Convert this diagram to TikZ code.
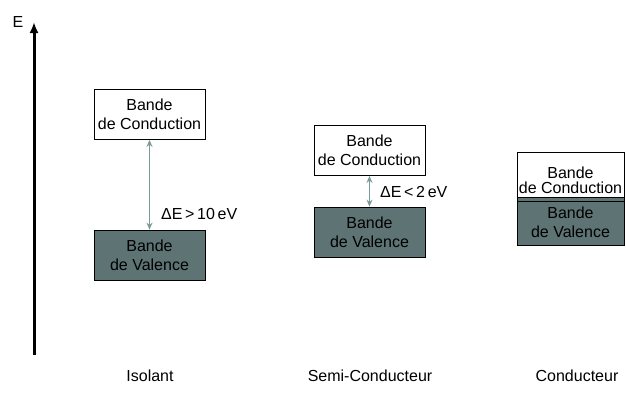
\documentclass[tikz,border=0pt]{standalone}
\usepackage{fontspec}
\setmainfont{Liberation Sans}
\usetikzlibrary{arrows.meta}
\definecolor{valfill}{HTML}{5E7373}
\definecolor{gapcol}{HTML}{7A9A9A}
\tikzset{
  band/.style={draw, rectangle, line width=0.8pt, minimum width=111pt, minimum height=50pt, inner sep=0pt, align=center},
  cband/.style={band, fill=white},
  vband/.style={band, fill=valfill},
  gap/.style={{Stealth[length=7pt,width=6pt]}-{Stealth[length=7pt,width=6pt]}, gapcol, line width=1.3pt},
  lbl/.style={inner sep=0pt, align=center}
}
\begin{document}
\begin{tikzpicture}[x=1pt, y=-1pt, font=\fontsize{16}{19}\selectfont]
\useasboundingbox (0,0) rectangle (626,410);
% energy axis
\coordinate (ebot) at (34,355);
\coordinate (etop) at (34,22);
\draw[-{Latex[length=11pt,width=9pt]}, line width=3pt] (ebot) -- (etop);
\node[lbl] (elabel) at (18,22) {E};
% insulator
\node[cband] (icond) at (149.5,114.5) {Bande\\de Conduction};
\node[vband] (ival) at (149.5,255) {Bande\\de Valence};
\draw[gap] (icond) -- (ival);
\node[lbl, anchor=west] (igap) at (161,214) {ΔE\,>\,10\,eV};
% semiconductor
\node[cband] (scond) at (369.5,150.5) {Bande\\de Conduction};
\node[vband] (sval) at (369.5,232) {Bande\\de Valence};
\draw[gap] (scond) -- (sval);
\node[lbl, anchor=west] (sgap) at (380,192) {ΔE\,<\,2\,eV};
% conductor
\node[cband, minimum width=107pt, minimum height=45pt] (ccond) at (570.5,174.5) {};
\node[vband, minimum width=107pt, minimum height=4pt] (cstrip) at (570.5,199) {};
\node[vband, minimum width=107pt, minimum height=44pt] (cval) at (570.5,223) {};
\node[lbl] (ctext) at (570.5,180) {Bande\\[-4pt]de Conduction};
\node[lbl] (vtext) at (570.5,222) {Bande\\de Valence};
% captions
\node[lbl] (tiso) at (150,376) {Isolant};
\node[lbl] (tsemi) at (370,376) {Semi-Conducteur};
\node[lbl] (tcond) at (577,376) {Conducteur};
\end{tikzpicture}
\end{document}
